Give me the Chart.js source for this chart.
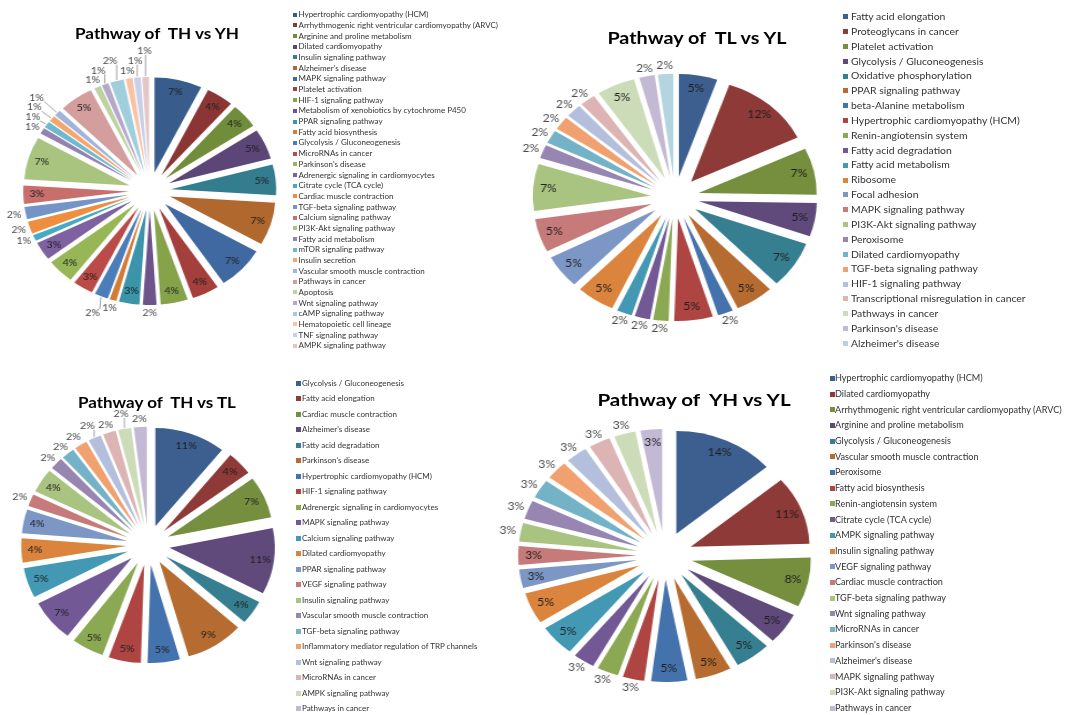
<!DOCTYPE html>
<html>
<head>
<meta charset="utf-8">
<script src="https://cdn.jsdelivr.net/npm/chart.js@4.4.1/dist/chart.umd.min.js"></script>
<style>
  html, body { margin: 0; padding: 0; background: #fff; }
  body { width: 1073px; height: 715px; position: relative; overflow: hidden; font-family: Lato, "Open Sans", sans-serif; }
  .pie { position: absolute; transform-origin: 0 0; }
  .pie canvas { display: block; }
  .title { position: absolute; font-weight: bold; color: #000; white-space: pre; line-height: 1; }
  .lg-text { position: absolute; white-space: nowrap; color: #333; }
  .lg-box { position: absolute; }
</style>
</head>
<body>
<script>
// ---- TH vs YH ----
const thyhPathways = [
  "Hypertrophic cardiomyopathy (HCM)",
  "Arrhythmogenic right ventricular cardiomyopathy (ARVC)",
  "Arginine and proline metabolism",
  "Dilated cardiomyopathy",
  "Insulin signaling pathway",
  "Alzheimer's disease",
  "MAPK signaling pathway",
  "Platelet activation",
  "HIF-1 signaling pathway",
  "Metabolism of xenobiotics by cytochrome P450",
  "PPAR signaling pathway",
  "Fatty acid biosynthesis",
  "Glycolysis / Gluconeogenesis",
  "MicroRNAs in cancer",
  "Parkinson's disease",
  "Adrenergic signaling in cardiomyocytes",
  "Citrate cycle (TCA cycle)",
  "Cardiac muscle contraction",
  "TGF-beta signaling pathway",
  "Calcium signaling pathway",
  "PI3K-Akt signaling pathway",
  "Fatty acid metabolism",
  "mTOR signaling pathway",
  "Insulin secretion",
  "Vascular smooth muscle contraction",
  "Pathways in cancer",
  "Apoptosis",
  "Wnt signaling pathway",
  "cAMP signaling pathway",
  "Hematopoietic cell lineage",
  "TNF signaling pathway",
  "AMPK signaling pathway"
];
const thyhPercent = [7, 4, 4, 5, 5, 7, 7, 4, 4, 2, 3, 1, 2, 3, 4, 3, 1, 2, 2, 3, 7, 1, 1, 1, 1, 5, 1, 1, 2, 1, 1, 1];

// ---- TL vs YL ----
const tlylPathways = [
  "Fatty acid elongation",
  "Proteoglycans in cancer",
  "Platelet activation",
  "Glycolysis / Gluconeogenesis",
  "Oxidative phosphorylation",
  "PPAR signaling pathway",
  "beta-Alanine metabolism",
  "Hypertrophic cardiomyopathy (HCM)",
  "Renin-angiotensin system",
  "Fatty acid degradation",
  "Fatty acid metabolism",
  "Ribosome",
  "Focal adhesion",
  "MAPK signaling pathway",
  "PI3K-Akt signaling pathway",
  "Peroxisome",
  "Dilated cardiomyopathy",
  "TGF-beta signaling pathway",
  "HIF-1 signaling pathway",
  "Transcriptional misregulation in cancer",
  "Pathways in cancer",
  "Parkinson's disease",
  "Alzheimer's disease"
];
const tlylPercent = [5, 12, 7, 5, 7, 5, 2, 5, 2, 2, 2, 5, 5, 5, 7, 2, 2, 2, 2, 2, 5, 2, 2];

// ---- TH vs TL ----
const thtlPathways = [
  "Glycolysis / Gluconeogenesis",
  "Fatty acid elongation",
  "Cardiac muscle contraction",
  "Alzheimer's disease",
  "Fatty acid degradation",
  "Parkinson's disease",
  "Hypertrophic cardiomyopathy (HCM)",
  "HIF-1 signaling pathway",
  "Adrenergic signaling in cardiomyocytes",
  "MAPK signaling pathway",
  "Calcium signaling pathway",
  "Dilated cardiomyopathy",
  "PPAR signaling pathway",
  "VEGF signaling pathway",
  "Insulin signaling pathway",
  "Vascular smooth muscle contraction",
  "TGF-beta signaling pathway",
  "Inflammatory mediator regulation of TRP channels",
  "Wnt signaling pathway",
  "MicroRNAs in cancer",
  "AMPK signaling pathway",
  "Pathways in cancer"
];
const thtlPercent = [11, 4, 7, 11, 4, 9, 5, 5, 5, 7, 5, 4, 4, 2, 4, 2, 2, 2, 2, 2, 2, 2];

// ---- YH vs YL ----
const yhylPathways = [
  "Hypertrophic cardiomyopathy (HCM)",
  "Dilated cardiomyopathy",
  "Arrhythmogenic right ventricular cardiomyopathy (ARVC)",
  "Arginine and proline metabolism",
  "Glycolysis / Gluconeogenesis",
  "Vascular smooth muscle contraction",
  "Peroxisome",
  "Fatty acid biosynthesis",
  "Renin-angiotensin system",
  "Citrate cycle (TCA cycle)",
  "AMPK signaling pathway",
  "Insulin signaling pathway",
  "VEGF signaling pathway",
  "Cardiac muscle contraction",
  "TGF-beta signaling pathway",
  "Wnt signaling pathway",
  "MicroRNAs in cancer",
  "Parkinson's disease",
  "Alzheimer's disease",
  "MAPK signaling pathway",
  "PI3K-Akt signaling pathway",
  "Pathways in cancer"
];
const yhylPercent = [14, 11, 8, 5, 5, 5, 5, 3, 3, 3, 5, 5, 3, 3, 3, 3, 3, 3, 3, 3, 3, 3];

// Office-style slice colours: six hues, shaded from dark to light per round.
const shades4 = [
  "#3d5f8f", "#8e3a38", "#758f3e", "#5f4a7b", "#367f91", "#b66c31",
  "#4472ac", "#ae4542", "#8ba952", "#725996", "#4399b3", "#db843e",
  "#7c97c5", "#c67b7a", "#a9c380", "#9785b2", "#74b3c7", "#f1a16f",
  "#b3bfdc", "#dcb4b3", "#ccdcb8", "#c3b9d4", "#b4d4e0", "#f8cdb3"
];
const shades6 = [
  "#385d8c", "#8b3634", "#718c3b", "#5b4677", "#337d8f", "#b0682e",
  "#4069a1", "#a43f3c", "#86a34a", "#6c538c", "#3c94ab", "#d27c35",
  "#4a7dba", "#bb4b48", "#97b656", "#7e61a0", "#47aac5", "#f08e3f",
  "#7494c8", "#c86e6c", "#a8c47e", "#9382b2", "#6bbad0", "#f5a66e",
  "#a2b4da", "#d39e9d", "#bed2a0", "#b4a9cb", "#a0cedd", "#f9c3a3",
  "#c6d0e8", "#e4c6c5"
];

// Draws every slice pushed out along its bisector, then the percentage labels.
const explodedPie = {
  id: 'explodedPie',
  beforeDatasetDraw(chart, args, opts) {
    const ctx = chart.ctx;
    const d = opts.explode || 0;
    args.meta.data.forEach(arc => {
      const mid = (arc.startAngle + arc.endAngle) / 2;
      ctx.save();
      ctx.translate(Math.cos(mid) * d, Math.sin(mid) * d);
      arc.draw(ctx);
      ctx.restore();
    });
    return false;
  },
  afterDatasetsDraw(chart, args, opts) {
    const ctx = chart.ctx;
    const meta = chart.getDatasetMeta(0);
    const values = chart.data.datasets[0].data;
    const d = opts.explode || 0;
    const fs = opts.fontSize;
    const placed = [];
    const overlaps = (a, b) => a.x1 < b.x2 && b.x1 < a.x2 && a.y1 < b.y2 && b.y1 < a.y2;
    ctx.save();
    ctx.font = fs + 'px Lato, "Open Sans", sans-serif';
    ctx.textAlign = 'center';
    ctx.textBaseline = 'middle';
    meta.data.forEach((arc, i) => {
      const v = values[i];
      const text = v + '%';
      const mid = (arc.startAngle + arc.endAngle) / 2;
      const ux = Math.cos(mid), uy = Math.sin(mid);
      const cx = arc.x + ux * d, cy = arc.y + uy * d;
      const R = arc.outerRadius;
      const outside = v <= opts.outsideMax && !(opts.keepInside || []).includes(i);
      if (!outside) {
        ctx.fillStyle = opts.insideColor;
        ctx.fillText(text, cx + ux * R * opts.insideRatio, cy + uy * R * opts.insideRatio);
        return;
      }
      const w = ctx.measureText(text).width, h = fs;
      const ax = cx + ux * (R + 2), ay = cy + uy * (R + 2);
      let push = 0, box;
      for (;;) {
        const lx = ax + ux * (w / 2 + 2 + push);
        const ly = ay + uy * (h / 2 + 1 + push);
        box = { x1: lx - w / 2 - 1, x2: lx + w / 2 + 1, y1: ly - h / 2, y2: ly + h / 2, lx, ly };
        if (push > 40 || !placed.some(b => overlaps(b, box))) break;
        push += 1;
      }
      placed.push(box);
      if (push > 4) {
        const ex = cx + ux * (R + 1), ey = cy + uy * (R + 1);
        const tx = Math.min(Math.max(ex, box.x1 + 1), box.x2 - 1);
        const ty = Math.min(Math.max(ey, box.y1 + 1), box.y2 - 1);
        ctx.strokeStyle = '#8c8c8c';
        ctx.lineWidth = 0.8;
        ctx.beginPath();
        ctx.moveTo(ex, ey);
        ctx.lineTo(tx, ty);
        ctx.stroke();
      }
      ctx.fillStyle = opts.outsideColor;
      ctx.fillText(text, box.lx, box.ly);
    });
    ctx.restore();
  }
};

const panels = [
  { names: thyhPathways, values: thyhPercent, colors: shades6, title: 'Pathway of  TH vs YH',
    cx: 150, cy: 191, R: 95, d: 19, s: 1.11, margin: 56, fs: 9.5, outsideMax: 2, keepInside: [],
    titleX: 156.5, titleY: 33.5, titleSize: 15.4,
    legend: { boxX: 293, textX: 298.5, y0: 14.7, step: 10.68, fs: 8, box: 4 } },
  { names: tlylPathways, values: tlylPercent, colors: shades4, title: 'Pathway of  TL vs YL',
    cx: 675, cy: 197.4, R: 102.7, d: 21, s: 1.15, margin: 46, fs: 10.5, outsideMax: 2, keepInside: [],
    titleX: 697, titleY: 38, titleSize: 17.2,
    legend: { boxX: 843, textX: 851, y0: 16.7, step: 14.85, fs: 10.4, box: 5 } },
  { names: thtlPathways, values: thtlPercent, colors: shades4, title: 'Pathway of  TH vs TL',
    cx: 148.5, cy: 545.3, R: 98.2, d: 20, s: 1.074, margin: 46, fs: 10, outsideMax: 2, keepInside: [],
    titleX: 157, titleY: 401.5, titleSize: 15.8,
    legend: { boxX: 296, textX: 302, y0: 383.3, step: 15.5, fs: 8, box: 5 } },
  { names: yhylPathways, values: yhylPercent, colors: shades4, title: 'Pathway of  YH vs YL',
    cx: 664.5, cy: 555.1, R: 102.6, d: 24, s: 1.158, margin: 46, fs: 10.5, outsideMax: 3, keepInside: [12, 13, 21],
    titleX: 694, titleY: 400, titleSize: 17.8,
    legend: { boxX: 829.5, textX: 835, y0: 378.3, step: 15.7, fs: 9.1, box: 5 } }
];

function legendItems(chart) {
  try {
    return Chart.overrides.pie.plugins.legend.labels.generateLabels(chart);
  } catch (e) {
    const ds = chart.data.datasets[0];
    return chart.data.labels.map((t, i) => ({ text: t, fillStyle: ds.backgroundColor[i] }));
  }
}

panels.forEach(p => {
  const size = Math.round(2 * (p.R + p.d + p.margin));
  const half = size / 2;
  const wrap = document.createElement('div');
  wrap.className = 'pie';
  wrap.style.left = (p.cx - p.s * half) + 'px';
  wrap.style.top = (p.cy - half) + 'px';
  wrap.style.width = size + 'px';
  wrap.style.height = size + 'px';
  wrap.style.transform = 'scaleX(' + p.s + ')';
  const cv = document.createElement('canvas');
  cv.width = size;
  cv.height = size;
  wrap.appendChild(cv);
  document.body.appendChild(wrap);

  const chart = new Chart(cv, {
    type: 'pie',
    data: {
      labels: p.names,
      datasets: [{
        data: p.values,
        backgroundColor: p.colors.slice(0, p.values.length),
        borderWidth: 0,
        radius: p.R
      }]
    },
    options: {
      responsive: false,
      animation: false,
      devicePixelRatio: 1,
      events: [],
      layout: { padding: 0 },
      plugins: {
        legend: { display: false },
        tooltip: { enabled: false },
        explodedPie: {
          explode: p.d, fontSize: p.fs, insideRatio: 0.87,
          outsideMax: p.outsideMax, keepInside: p.keepInside,
          insideColor: '#1e1e1e', outsideColor: '#4a4a4a'
        }
      }
    },
    plugins: [explodedPie]
  });

  const t = document.createElement('div');
  t.className = 'title';
  t.textContent = p.title;
  t.style.fontSize = p.titleSize + 'px';
  t.style.left = p.titleX + 'px';
  t.style.top = p.titleY + 'px';
  t.style.transform = 'translate(-50%, -50%) scaleX(' + p.s + ')';
  document.body.appendChild(t);

  const L = p.legend;
  legendItems(chart).forEach((it, i) => {
    const y = L.y0 + i * L.step;
    const b = document.createElement('div');
    b.className = 'lg-box';
    b.style.left = L.boxX + 'px';
    b.style.top = (y - L.box / 2) + 'px';
    b.style.width = L.box + 'px';
    b.style.height = L.box + 'px';
    b.style.background = it.fillStyle;
    document.body.appendChild(b);
    const tx = document.createElement('div');
    tx.className = 'lg-text';
    tx.textContent = it.text;
    tx.style.left = L.textX + 'px';
    tx.style.top = (y - L.fs * 0.55) + 'px';
    tx.style.fontSize = L.fs + 'px';
    tx.style.lineHeight = L.fs + 'px';
    document.body.appendChild(tx);
  });
});
</script>
</body>
</html>
